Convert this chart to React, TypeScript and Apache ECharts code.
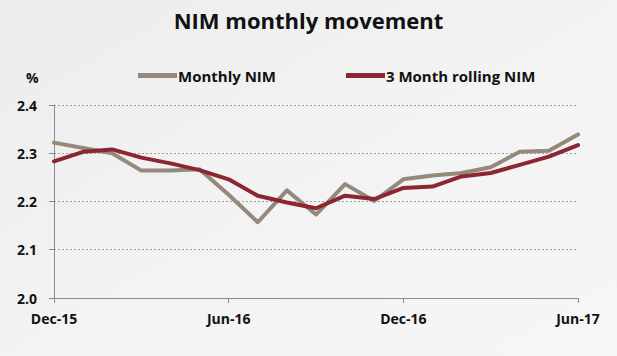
import React, { useEffect, useRef } from "react";
import * as echarts from "echarts";

const months = [
  "Dec-15", "Jan-16", "Feb-16", "Mar-16", "Apr-16", "May-16", "Jun-16",
  "Jul-16", "Aug-16", "Sep-16", "Oct-16", "Nov-16", "Dec-16",
  "Jan-17", "Feb-17", "Mar-17", "Apr-17", "May-17", "Jun-17",
];
const monthlyNIM = [
  2.322, 2.311, 2.300, 2.264, 2.264, 2.267, 2.214, 2.157, 2.223, 2.173,
  2.236, 2.201, 2.246, 2.254, 2.259, 2.271, 2.303, 2.305, 2.339,
];
const rollingNIM = [
  2.283, 2.303, 2.308, 2.291, 2.279, 2.265, 2.246, 2.212, 2.198, 2.186,
  2.212, 2.205, 2.228, 2.231, 2.252, 2.259, 2.276, 2.293, 2.317,
];
const seriesNames = ["Monthly NIM", "3 Month rolling NIM"];
const titleText = "NIM monthly movement";
const unitText = "%";

const FONT = "'Open Sans', 'DejaVu Sans', sans-serif";

export default function App() {
  const ref = useRef<HTMLDivElement>(null);
  useEffect(() => {
    document.body.style.margin = "0";
    if (!ref.current) return;
    const chart = echarts.init(ref.current, undefined, { renderer: "svg" });
    chart.setOption({
      animation: false,
      backgroundColor: new echarts.graphic.LinearGradient(0, 0, 1, 1, [
        { offset: 0, color: "#ececec" },
        { offset: 0.5, color: "#f3f3f3" },
        { offset: 1, color: "#f6f6f6" },
      ]),
      title: {
        text: titleText,
        left: "center",
        top: 4,
        textStyle: { fontFamily: FONT, fontWeight: "bold", fontSize: 22, color: "#111" },
      },
      graphic: [
        {
          type: "text",
          left: 26,
          top: 70,
          style: { text: unitText, font: `bold 14px ${FONT}`, fill: "#111" },
        },
      ],
      legend: {
        top: 68,
        left: 138,
        padding: 0,
        itemWidth: 39,
        itemHeight: 5,
        itemGap: 70,
        icon: "rect",
        textStyle: { fontFamily: FONT, fontWeight: "bold", fontSize: 15, color: "#111", padding: [0, 0, 0, -4] },
        data: seriesNames,
      },
      grid: { left: 54, right: 39, top: 105, bottom: 58 },
      xAxis: {
        type: "category",
        data: months,
        boundaryGap: false,
        axisLine: { lineStyle: { color: "#8a8a8a", width: 1 } },
        axisTick: { interval: 5, length: 5, lineStyle: { color: "#8a8a8a" } },
        axisLabel: {
          interval: 5,
          margin: 13,
          fontFamily: FONT,
          fontWeight: "bold",
          fontSize: 14,
          color: "#111",
        },
        splitLine: { show: false },
      },
      yAxis: {
        type: "value",
        min: 2.0,
        max: 2.4,
        interval: 0.1,
        axisLine: { show: true, lineStyle: { color: "#8a8a8a", width: 1 } },
        axisTick: { show: true, length: 5, lineStyle: { color: "#8a8a8a" } },
        axisLabel: {
          margin: 17,
          fontFamily: FONT,
          fontWeight: "bold",
          fontSize: 14,
          color: "#111",
          formatter: (v: number) => v.toFixed(1),
        },
        splitLine: { show: true, lineStyle: { color: "#a0a0a0", type: [2, 2], width: 1 } },
      },
      series: [
        {
          name: seriesNames[0],
          type: "line",
          data: monthlyNIM,
          symbol: "none",
          lineStyle: { color: "#938a7c", width: 4, cap: "round", join: "round" },
          itemStyle: { color: "#938a7c" },
        },
        {
          name: seriesNames[1],
          type: "line",
          data: rollingNIM,
          symbol: "none",
          lineStyle: { color: "#8c2633", width: 4, cap: "round", join: "round" },
          itemStyle: { color: "#8c2633" },
        },
      ],
    });
    return () => chart.dispose();
  }, []);
  return <div ref={ref} style={{ width: 617, height: 356 }} />;
}
